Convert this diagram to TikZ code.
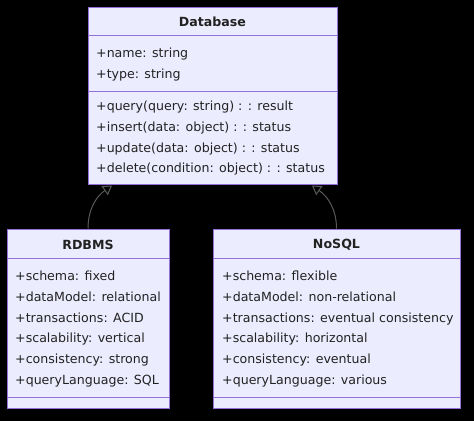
\documentclass[tikz,border=0pt]{standalone}
\usepackage{fontspec}
\setmainfont{DejaVu Sans}
\usetikzlibrary{arrows.meta}
\definecolor{boxfill}{HTML}{ECECFF}
\definecolor{boxline}{HTML}{9370DB}
\definecolor{linkgray}{HTML}{5A5A5A}
\definecolor{ink}{HTML}{222222}

\begin{document}
\begin{tikzpicture}[x=1pt,y=1pt,
  box/.style = {draw=boxline, fill=boxfill, line width=1pt, inner sep=0pt},
  divider/.style = {draw=boxline, line width=1pt},
  title/.style = {font=\fontsize{12.6}{14}\selectfont\bfseries, text=ink, inner sep=0pt},
  member/.style = {anchor=west, font=\fontsize{12.6}{14}\selectfont, text=ink, inner sep=0pt, text height=9.5pt, text depth=2.5pt},
  inherit/.style = {draw=linkgray, line width=1pt, -{Triangle[open, length=9pt, width=11pt, fill=black]}}]
\fill[black] (0,0) rectangle (474,-421);
\useasboundingbox (0,0) rectangle (474,-421);

% Database
\node[box, minimum width=249pt, minimum height=177pt] (db) at (212.5,-95.5) {};
\draw[divider] (88,-35) -- (337,-35);
\draw[divider] (88,-91) -- (337,-91);
\node[title] (dbtitle) at (212.5,-22) {Database};
\node[member] (dbname) at (96,-54) {+name: string};
\node[member] (dbtype) at (96,-75) {+type: string};
\node[member] (dbquery) at (96,-107) {+query(query: string) : : result};
\node[member] (dbinsert) at (96,-128) {+insert(data: object) : : status};
\node[member] (dbupdate) at (96,-148.5) {+update(data: object) : : status};
\node[member] (dbdelete) at (96,-169) {+delete(condition: object) : : status};

% RDBMS
\node[box, minimum width=162pt, minimum height=179pt] (rdbms) at (88,-318.5) {};
\draw[divider] (7,-258) -- (169,-258);
\draw[divider] (7,-397) -- (169,-397);
\node[title] (rdbmstitle) at (88,-245) {RDBMS};
\node[member] (rschema) at (15,-277) {+schema: fixed};
\node[member] (rmodel) at (15,-297.8) {+dataModel: relational};
\node[member] (rtrans) at (15,-318.5) {+transactions: ACID};
\node[member] (rscale) at (15,-339.3) {+scalability: vertical};
\node[member] (rcons) at (15,-360.2) {+consistency: strong};
\node[member] (rlang) at (15,-381) {+queryLanguage: SQL};

% NoSQL
\node[box, minimum width=247pt, minimum height=179pt] (nosql) at (336.5,-318.5) {};
\draw[divider] (213,-258) -- (460,-258);
\draw[divider] (213,-397) -- (460,-397);
\node[title] (nosqltitle) at (336.5,-245) {NoSQL};
\node[member] (nschema) at (222,-277) {+schema: flexible};
\node[member] (nmodel) at (222,-297.8) {+dataModel: non-relational};
\node[member] (ntrans) at (222,-318.5) {+transactions: eventual consistency};
\node[member] (nscale) at (222,-339.3) {+scalability: horizontal};
\node[member] (ncons) at (222,-360.2) {+consistency: eventual};
\node[member] (nlang) at (222,-381) {+queryLanguage: various};

% inheritance
\coordinate (dbleft) at (112,-185.5);
\coordinate (dbright) at (312,-185.5);
\draw[inherit] (rdbms.north) to[out=90, in=-145] (dbleft);
\draw[inherit] (nosql.north) to[out=90, in=-35] (dbright);
\end{tikzpicture}
\end{document}
